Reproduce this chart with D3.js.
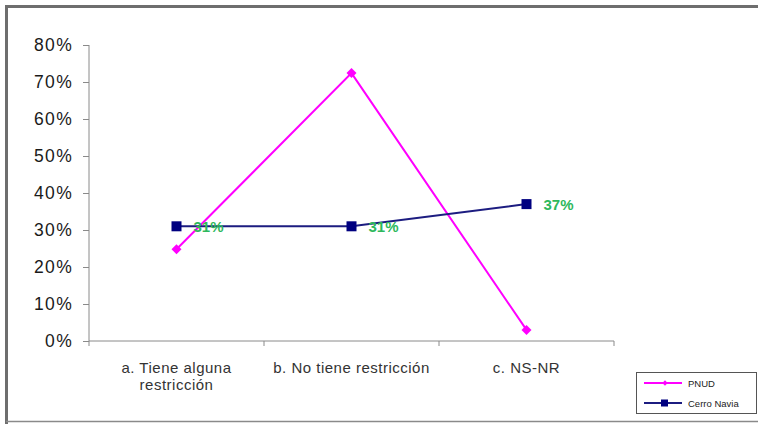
<!DOCTYPE html>
<html><head><meta charset="utf-8">
<script src="https://cdn.jsdelivr.net/npm/d3@7"></script>
<style>body{margin:0;background:#fff}svg{display:block}</style>
</head><body>
<svg id="c" width="758" height="424"></svg>
<script>
const categories = ["a. Tiene alguna|restricción", "b. No tiene restricción", "c. NS-NR"];
const pnud = [0.248, 0.724, 0.03];
const cerroNavia = [0.31, 0.31, 0.37];
const cerroLabels = ["31%", "31%", "37%"];
const yTicks = [0, 0.1, 0.2, 0.3, 0.4, 0.5, 0.6, 0.7, 0.8];
const seriesNames = ["PNUD", "Cerro Navia"];

const FONT = "Arial, 'Liberation Sans', sans-serif";
const svg = d3.select("#c");
// frame
svg.append("path").attr("d","M6.5,424 V6.5 H758").attr("fill","none").attr("stroke","#6e6e6e").attr("stroke-width",3);
svg.append("line").attr("x1",6).attr("x2",758).attr("y1",421.5).attr("y2",421.5).attr("stroke","#8a8a8a").attr("stroke-width",1.5);

const x = d3.scaleBand().domain(categories).range([89, 614]);
const y = d3.scaleLinear().domain([0, 0.8]).range([341, 45]);
const cx = d => x(d) + x.bandwidth()/2;

const yAxis = svg.append("g").attr("transform","translate(89,0)")
  .call(d3.axisLeft(y).tickValues(yTicks).tickFormat(d3.format(".0%")).tickSize(6).tickPadding(10));
yAxis.select(".domain").attr("stroke","#8a8a8a").attr("d","M0,45V341");
yAxis.selectAll(".tick line").attr("stroke","#8a8a8a");
yAxis.selectAll(".tick text").attr("font-family",FONT).attr("font-size",17.5).attr("letter-spacing","1.3px").attr("fill","#1a1a1a");

const xAxis = svg.append("g").attr("transform","translate(0,341)")
  .call(d3.axisBottom(x).tickSize(0).tickFormat(""));
xAxis.select(".domain").attr("stroke","#8a8a8a").attr("d","M89,0H614");
const bounds = categories.map(c => x(c)).concat([x.range()[1]]);
svg.append("g").selectAll("line").data(bounds).join("line")
  .attr("x1",d=>d).attr("x2",d=>d).attr("y1",341).attr("y2",346).attr("stroke","#8a8a8a");
categories.forEach(c => {
  const lines = c.split("|");
  const t = svg.append("text").attr("x", cx(c)).attr("y", 373).attr("text-anchor","middle")
    .attr("font-family",FONT).attr("font-size",15).attr("letter-spacing","0.5px").attr("fill","#333");
  lines.forEach((l,i) => t.append("tspan").attr("x", cx(c)).attr("dy", i===0?0:17).text(l));
});

const line = d3.line().x((d,i)=>cx(categories[i])).y(d=>y(d));
// PNUD
svg.append("path").datum(pnud).attr("d",line).attr("fill","none").attr("stroke","#ff00ff").attr("stroke-width",2);
svg.append("g").selectAll("path").data(pnud).join("path")
  .attr("d", d3.symbol(d3.symbolSquare, 50))
  .attr("transform",(d,i)=>`translate(${cx(categories[i])},${y(d)}) rotate(45)`).attr("fill","#ff00ff");
// Cerro Navia
svg.append("path").datum(cerroNavia).attr("d",line).attr("fill","none").attr("stroke","#1c1c80").attr("stroke-width",2);
svg.append("g").selectAll("rect").data(cerroNavia).join("rect")
  .attr("x",(d,i)=>cx(categories[i])-5).attr("y",d=>y(d)-5).attr("width",10).attr("height",10).attr("fill","#000080");
svg.append("g").selectAll("text").data(cerroNavia).join("text")
  .attr("x",(d,i)=>cx(categories[i])+17).attr("y",d=>y(d)+6).text((d,i)=>cerroLabels[i])
  .attr("font-family",FONT).attr("font-size",15).attr("font-weight","bold").attr("fill","#2eb85c");

// legend
const lg = svg.append("g");
lg.append("rect").attr("x",636.5).attr("y",372.5).attr("width",120).attr("height",41).attr("fill","#fff").attr("stroke","#555").attr("stroke-width",1);
const colors = ["#ff00ff","#1c1c80"];
seriesNames.forEach((n,i) => {
  const yy = 383 + i*20;
  lg.append("line").attr("x1",644).attr("x2",682).attr("y1",yy).attr("y2",yy).attr("stroke",colors[i]).attr("stroke-width",2);
  if (i===0) lg.append("path").attr("d", d3.symbol(d3.symbolSquare, 14)).attr("transform",`translate(665,${yy}) rotate(45)`).attr("fill","#ff00ff");
  else lg.append("rect").attr("x",661).attr("y",yy-3.5).attr("width",7).attr("height",7).attr("fill","#000080");
  lg.append("text").attr("x",688).attr("y",yy+3.5).text(n).attr("font-family",FONT).attr("font-size",9.5).attr("fill","#222");
});
</script>
</body></html>
